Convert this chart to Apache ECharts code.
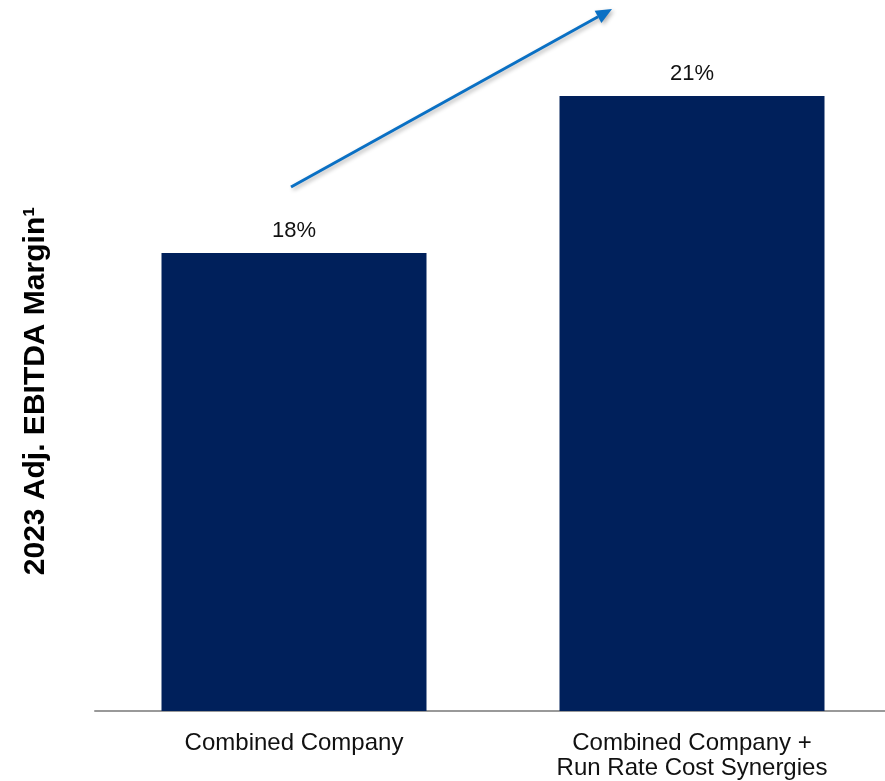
<!DOCTYPE html>
<html>
<head>
<meta charset="utf-8">
<script src="https://cdn.jsdelivr.net/npm/echarts@6/dist/echarts.min.js"></script>
<style>html,body{margin:0;padding:0;background:#fff}#c{width:885px;height:781px}</style>
</head>
<body>
<div id="c"></div>
<script>
const categories = ['Combined Company', 'Combined Company +\nRun Rate Cost Synergies'];
const margins = [18, 21];
const axisTitle = '2023 Adj. EBITDA Margin\u00b9';

const chart = echarts.init(document.getElementById('c'), null, {renderer: 'canvas'});
const x0 = 291, y0 = 187, x1 = 612, y1 = 9;
const ang = Math.atan2(y1 - y0, x1 - x0);
const hl = 16, hw = 7;
const bx = x1 - hl * Math.cos(ang), by = y1 - hl * Math.sin(ang);
const px = -Math.sin(ang) * hw, py = Math.cos(ang) * hw;
chart.setOption({
  animation: false,
  grid: {left: 95, right: -6, top: 40, bottom: 70, containLabel: false, outerBoundsMode: 'none'},
  xAxis: {
    type: 'category',
    data: categories,
    axisLine: {lineStyle: {color: '#999999', width: 2}},
    axisTick: {show: false},
    axisLabel: {color: '#111', fontFamily: 'Liberation Sans, Arial', fontSize: 24, lineHeight: 25, margin: 20}
  },
  yAxis: {
    type: 'value', min: 9.25, max: 22.07,
    show: true,
    axisLine: {show: false}, axisTick: {show: false}, axisLabel: {show: false}, splitLine: {show: false}
  },
  series: [{
    type: 'bar',
    data: margins,
    barWidth: 265,
    itemStyle: {color: '#00205B'},
    label: {show: true, position: 'top', distance: 11, formatter: '{c}%', color: '#111',
      fontFamily: 'Liberation Sans, Arial', fontSize: 22}
  }],
  graphic: [
    {type: 'text', rotation: Math.PI / 2,
      style: {text: axisTitle, font: 'bold 30px "Liberation Sans", Arial', fill: '#000', textAlign: 'center', textVerticalAlign: 'middle'},
      position: [36, 391], silent: true},
    {type: 'line', shape: {x1: x0, y1: y0, x2: bx, y2: by},
      style: {stroke: '#0A70C4', lineWidth: 3, shadowBlur: 4, shadowColor: 'rgba(0,0,0,0.3)', shadowOffsetX: 2, shadowOffsetY: 2}},
    {type: 'polygon', shape: {points: [[x1, y1], [bx + px, by + py], [bx - px, by - py]]},
      style: {fill: '#0A70C4', shadowBlur: 4, shadowColor: 'rgba(0,0,0,0.3)', shadowOffsetX: 2, shadowOffsetY: 2}}
  ]
});
</script>
</body>
</html>
